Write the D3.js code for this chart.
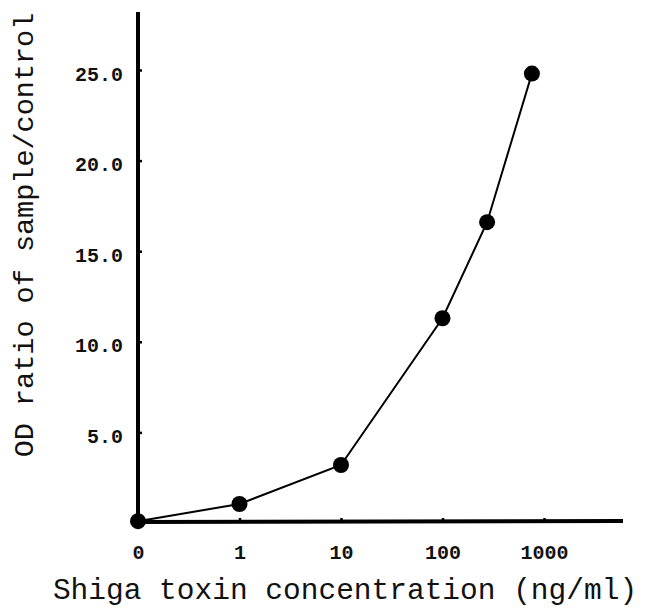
<!DOCTYPE html>
<html><head><meta charset="utf-8">
<script src="https://cdn.jsdelivr.net/npm/d3@7"></script>
<style>body{margin:0;background:#fff}svg{display:block}</style>
</head><body>
<script>
const concentrations = [0, 1, 10, 100, 275, 760];
const odRatio = [0.1, 1.05, 3.2, 11.3, 16.6, 24.8];
const xTickValues = [0, 1, 10, 100, 1000];
const xTickLabels = ["0", "1", "10", "100", "1000"];
const yTickValues = [5, 10, 15, 20, 25];
const yTickLabels = ["5.0", "10.0", "15.0", "20.0", "25.0"];

const W = 662, H = 614;
const svg = d3.select("body").append("svg").attr("width", W).attr("height", H);

const pos = v => v <= 0 ? 0 : Math.log10(v) + 1;
const x = d3.scaleLinear().domain([0, 4]).range([138, 544]);
const y = d3.scaleLinear().domain([0, 25]).range([523, 70]);

const font = "'Liberation Mono', 'Courier New', monospace";

// axes lines
svg.append("line").attr("x1", 138).attr("x2", 138).attr("y1", 12).attr("y2", 524)
  .attr("stroke", "#000").attr("stroke-width", 4);
svg.append("line").attr("x1", 136).attr("x2", 623).attr("y1", 522).attr("y2", 521)
  .attr("stroke", "#000").attr("stroke-width", 4);

// y ticks
const yAxis = d3.axisLeft(y).tickValues(yTickValues).tickSize(0).tickPadding(15)
  .tickFormat((d, i) => yTickLabels[i]);
const gy = svg.append("g").attr("transform", "translate(138,0)").call(yAxis);
gy.select(".domain").remove();
gy.selectAll("text").attr("font-family", font).attr("font-size", 20).attr("font-weight", "bold").attr("fill", "#111").attr("dy", "0.5em");
gy.selectAll(".tick").append("line").attr("x1", 0).attr("x2", 4).attr("stroke", "#000").attr("stroke-width", 2.5);

// x ticks
const xAxis = d3.axisBottom(x).tickValues(xTickValues.map(pos)).tickSize(0).tickPadding(23)
  .tickFormat((d, i) => xTickLabels[i]);
const gx = svg.append("g").attr("transform", "translate(0,522)").call(xAxis);
gx.select(".domain").remove();
gx.selectAll("text").attr("font-family", font).attr("font-size", 20).attr("font-weight", "bold").attr("fill", "#111");
gx.selectAll(".tick").filter((d, i) => i > 0).append("line").attr("y1", 0).attr("y2", -4).attr("stroke", "#000").attr("stroke-width", 2.5);

// line and points
const data = concentrations.map((c, i) => ({c, v: odRatio[i]}));
svg.append("path").datum(data)
  .attr("d", d3.line().x(d => x(pos(d.c))).y(d => y(d.v)))
  .attr("fill", "none").attr("stroke", "#000").attr("stroke-width", 2);
svg.selectAll("circle.pt").data(data).join("circle").attr("class", "pt")
  .attr("cx", d => x(pos(d.c))).attr("cy", d => y(d.v)).attr("r", 8).attr("fill", "#000");

// axis titles
svg.append("text").attr("x", 345).attr("y", 599).attr("text-anchor", "middle")
  .attr("font-family", font).attr("font-size", 29.5).attr("fill", "#111")
  .text("Shiga toxin concentration (ng/ml)");
svg.append("text").attr("transform", "translate(33,235) rotate(-90)").attr("text-anchor", "middle")
  .attr("font-family", font).attr("font-size", 28.5).attr("fill", "#111")
  .text("OD ratio of sample/control");
</script>
</body></html>
